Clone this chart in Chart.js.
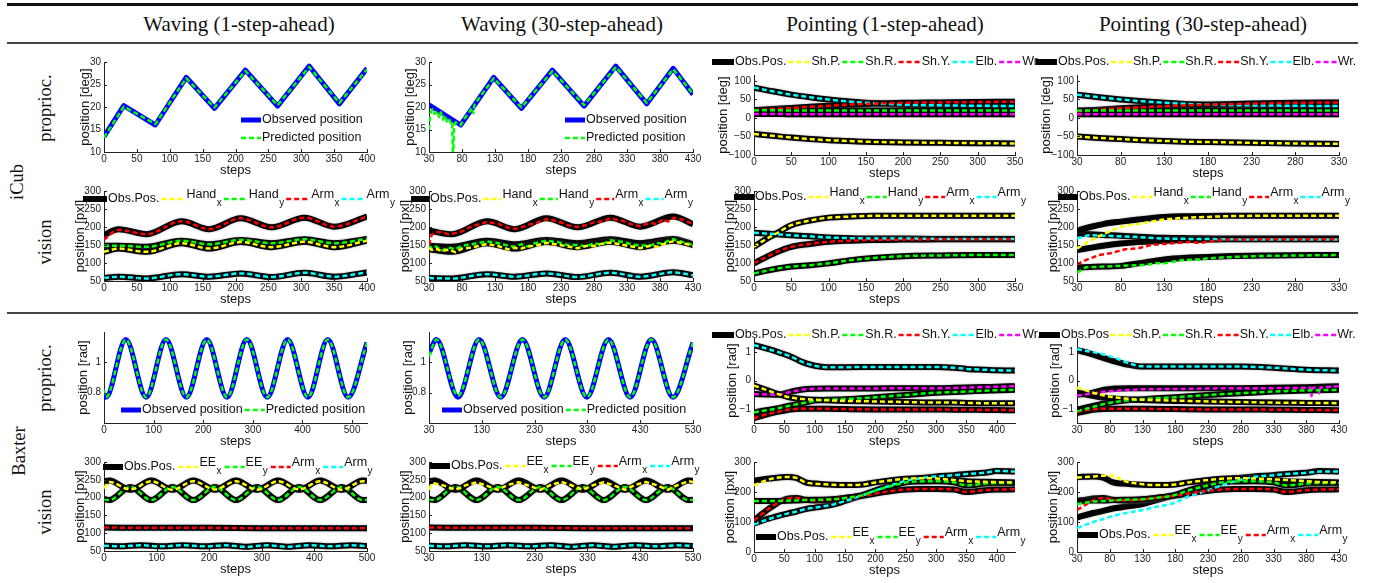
<!DOCTYPE html>
<html><head><meta charset="utf-8">
<script src="https://cdn.jsdelivr.net/npm/chart.js@4.4.0/dist/chart.umd.min.js"></script>
<style>
html,body{margin:0;padding:0;background:#fff;overflow:hidden;}
#page{position:relative;width:1378px;height:583px;overflow:hidden;background:#fff;}
#page canvas{position:absolute;}
.rule{position:absolute;}
.hdr{position:absolute;font-family:'Liberation Serif','Times New Roman',serif;font-size:21px;color:#111;white-space:nowrap;transform:translate(-50%,-50%);}
.rlab{position:absolute;font-family:'Liberation Serif','Times New Roman',serif;font-size:18.5px;color:#111;white-space:nowrap;transform:translate(-50%,-50%) rotate(-90deg);}
</style></head><body><div id="page"></div>
<script>
// ===================== TEXT =====================
const columnTitles = ["Waving (1-step-ahead)", "Waving (30-step-ahead)", "Pointing (1-step-ahead)", "Pointing (30-step-ahead)"];
const robotLabels = ["iCub", "Baxter"];
const modalityLabels = ["proprioc.", "vision", "proprioc.", "vision"];
const waveLegend = ["Observed position", "Predicted position"];
const jointLegend = ["Obs.Pos.", "Sh.P.", "Sh.R.", "Sh.Y.", "Elb.", "Wr."];
const jointLegendB = ["Obs.Pos", "Sh.P.", "Sh.R.", "Sh.Y.", "Elb.", "Wr."];
const handLegend = [["Obs.Pos.", ""], ["Hand", "x"], ["Hand", "y"], ["Arm", "x"], ["Arm", "y"]];
const eeLegend = [["Obs.Pos.", ""], ["EE", "x"], ["EE", "y"], ["Arm", "x"], ["Arm", "y"]];

// ===================== TICKS =====================
const ticksX400 = [0,50,100,150,200,250,300,350,400];
const ticksX430 = [30,80,130,180,230,280,330,380,430];
const ticksX350 = [0,50,100,150,200,250,300,350];
const ticksX330 = [30,80,130,180,230,280,330];
const ticksX500 = [0,100,200,300,400,500];
const ticksX530 = [30,130,230,330,430,530];
const ticksX400b = [0,50,100,150,200,250,300,350,400];
const ticksYdeg = [10,15,20,25,30];
const ticksYjoint = [-100,-50,0,50,100];
const ticksYpx = [50,100,150,200,250,300];
const ticksYrad = [0.8,1];
const ticksYrad3 = [-1,0,1];
const ticksYpx0 = [0,100,200,300];

// ===================== iCub proprioception, waving =====================
const icPW1_x    = [0,30,78,125,168,215,264,312,358,400];
const icPW1_obs  = [13.4,20.3,16,26.6,19.7,28.2,20.2,29.1,20.7,28.6];
const icPW1_pred = [13.2,20.1,16.2,26.4,19.9,28.0,20.4,28.9,20.9,28.4];
const icPW30_x   = [30,78,128,170,217,265,313,360,400,430];
const icPW30_obs = [20.5,16,26.6,19.7,28.2,20.2,29.1,20.7,28.6,22.8];
const icPW30_px  = [30,32,35,38,42,45,48,51,54,57,60,63,65,66,67,68,70,74,78,84,90,95,97,99,101,105,128,170,217,265,313,360,400,430];
const icPW30_pred= [15,18.5,19.5,18.5,19.2,17.8,18.8,17.2,18.2,16.8,17.4,16.5,16.8,10,10,15.8,16.6,16.3,16,17.5,18.6,19.8,18.6,20.6,21.0,21.8,26.4,19.9,28.0,20.4,28.9,20.9,28.4,22.9];

// ===================== iCub proprioception, pointing =====================
const icPP1_x   = [0,25,50,75,100,125,150,200,250,300,350];
const icPP1_elb = [82,72,63,56,50,45,41,36,34,33,32];
const icPP1_shy = [21,24,27,30,33,36,38,41,42,43,44];
const icPP1_shr = [21,21,20,20,20,20,20,20,20,20,20];
const icPP1_wr  = [11,11,10,10,10,10,10,10,10,10,10];
const icPP1_shp = [-43,-48,-53,-57,-60,-62,-64,-66,-67,-68,-69];
const icPP30_x   = [30,55,80,105,130,155,180,230,280,330];
const icPP30_elb = [63,56,50,45,41,38,36,34,33,32];
const icPP30_shy = [18,22,26,29,32,34,36,39,41,42];
const icPP30_shr = [20,20,20,20,20,20,20,20,20,20];
const icPP30_wr  = [10,10,10,10,10,10,10,10,10,10];
const icPP30_shp = [-50,-54,-57,-60,-62,-64,-65,-67,-69,-70];

// ===================== iCub vision, waving =====================
const icVW1_x     = [0,22,65,118,160,208,255,305,350,400];
const icVW1_handx = [131,140,131,155,140,158,144,159,144,162];
const icVW1_handy = [148,148,145,162,152,164,155,166,155,167];
const icVW1_armx  = [178,194,180,216,194,224,199,226,201,229];
const icVW1_army  = [58,62,57,69,62,71,61,73,62,74];
const icVW1_armxPred = [165,192,180,216,194,224,199,226,201,229];
const icVW30_x     = [30,65,118,160,208,255,305,350,400,430];
const icVW30_handx = [138,131,155,140,158,144,159,144,162,150];
const icVW30_handy = [148,145,162,152,164,155,166,155,167,152];
const icVW30_armx  = [190,180,216,194,224,199,226,201,229,208];
const icVW30_army  = [58,57,69,62,71,61,73,62,74,66];
const icVW30_px        = [30,34,40,50,60,70,80,95,118,135,150,160,170,180,190,208,225,240,255,270,280,290,305,325,340,350,365,375,385,392,400,415,430];
const icVW30_handxPred = [142,136,140,133,137,130,140,143,153,147,138,142,140,146,148,156,151,146,141,148,147,153,157,150,145,141,148,145,152,157,160,155,148];
const icVW30_handyPred = [150,140,146,135,143,138,148,152,160,155,148,145,152,146,155,162,158,150,150,146,156,150,163,158,150,149,148,156,153,162,166,158,150];
const icVW30_armxPred  = [150,178,186,185,180,183,188,202,214,209,198,195,199,206,210,222,216,205,200,206,213,215,224,216,205,202,212,208,222,215,226,220,208];

// ===================== iCub vision, pointing =====================
const icVP1_x     = [0,15,30,50,75,100,130,160,200,250,300,350];
const icVP1_handx = [145,165,182,205,218,226,229,231,231,231,231,231];
const icVP1_army  = [184,182,180,177,174,171,169,168,168,167,167,167];
const icVP1_armx  = [99,115,130,145,153,159,162,164,165,166,166,166];
const icVP1_handy = [71,78,84,90,94,99,108,114,119,121,122,122];
const icVP30_x     = [30,45,60,80,100,130,160,200,250,300,330];
const icVP30_handx = [190,200,208,215,221,228,230,231,231,231,231];
const icVP30_army  = [182,180,178,176,173,170,169,168,168,168,168];
const icVP30_armx  = [136,142,148,154,158,162,164,166,166,166,166];
const icVP30_handy = [88,89,90,92,99,110,115,119,121,122,122];
const icVP30_handxPx   = [30,40,50,60,70,80,90,100,115,130,150,180,200,250,330];
const icVP30_handxPred = [140,155,168,180,190,200,205,208,215,221,225,228,230,231,231];
const icVP30_armyPred  = [168,177,176,174,172,168,167,166,165,165,165];
const icVP30_armxPx    = [30,40,55,70,85,100,115,130,145,160,170,180,200,250,330];
const icVP30_armxPred  = [96,108,122,128,138,141,150,153,156,159,155,160,165,166,166];
const icVP30_handyPx   = [30,40,60,80,100,110,120,130,150,170,180,200,220,250,330];
const icVP30_handyPred = [73,88,90,92,94,95,100,99,108,110,113,116,118,120,122];

// ===================== Baxter proprioception, waving =====================
const bxPW1_x    = [0,4,44,85,125,166,207,248,288,329,370,411,451,492,530];
const bxPW1_obs  = [0.79,0.77,1.15,0.77,1.15,0.77,1.15,0.77,1.15,0.77,1.15,0.77,1.15,0.77,1.13];
const bxPW1_pred = [0.82,0.77,1.15,0.77,1.15,0.77,1.15,0.77,1.15,0.77,1.15,0.77,1.15,0.77,1.13];
const bxPW30_x    = [30,44,85,125,166,207,248,288,329,370,411,451,492,530];
const bxPW30_obs  = [1.06,1.15,0.77,1.15,0.77,1.15,0.77,1.15,0.77,1.15,0.77,1.15,0.77,1.13];
const bxPW30_pred = [1.04,1.15,0.78,1.15,0.77,1.15,0.77,1.15,0.77,1.15,0.77,1.15,0.77,1.13];

// ===================== Baxter proprioception, pointing =====================
const bxPP1_x   = [0,20,40,60,80,100,120,150,200,250,300,330,350,380,400,430];
const bxPP1_elb = [1.25,1.13,1.0,0.85,0.65,0.52,0.47,0.47,0.48,0.48,0.48,0.45,0.41,0.38,0.36,0.35];
const bxPP1_wr  = [-0.48,-0.49,-0.5,-0.4,-0.32,-0.29,-0.28,-0.28,-0.28,-0.27,-0.27,-0.26,-0.25,-0.23,-0.22,-0.2];
const bxPP1_shp = [-0.18,-0.33,-0.48,-0.6,-0.65,-0.68,-0.7,-0.72,-0.74,-0.76,-0.78,-0.78,-0.79,-0.8,-0.8,-0.8];
const bxPP1_shr = [-1.13,-1.05,-0.98,-0.88,-0.8,-0.71,-0.68,-0.66,-0.59,-0.51,-0.43,-0.41,-0.39,-0.36,-0.34,-0.33];
const bxPP1_shy = [-1.33,-1.2,-1.1,-1.02,-1.0,-1.0,-1.0,-1.01,-1.02,-1.02,-1.02,-1.03,-1.03,-1.04,-1.04,-1.05];
const bxPP30_x   = [30,50,70,90,110,130,180,230,280,330,380,430];
const bxPP30_elb = [1.07,0.95,0.8,0.66,0.55,0.49,0.49,0.49,0.49,0.45,0.38,0.35];
const bxPP30_elbPred = [1.1,1.02,0.92,0.78,0.6,0.5,0.49,0.49,0.49,0.45,0.38,0.35];
const bxPP30_wr  = [-0.5,-0.45,-0.33,-0.28,-0.27,-0.27,-0.27,-0.27,-0.27,-0.26,-0.24,-0.2];
const bxPP30_wrPx   = [30,50,70,90,110,130,180,230,280,330,380,386,388,390,398,400,402,430];
const bxPP30_wrPred = [-0.53,-0.47,-0.4,-0.36,-0.33,-0.31,-0.3,-0.28,-0.27,-0.27,-0.26,-0.26,-0.55,-0.26,-0.26,-0.45,-0.25,-0.2];
const bxPP30_shp = [-0.42,-0.52,-0.6,-0.64,-0.67,-0.69,-0.72,-0.74,-0.76,-0.78,-0.79,-0.8];
const bxPP30_shpPred = [-0.25,-0.4,-0.52,-0.6,-0.65,-0.68,-0.71,-0.74,-0.76,-0.78,-0.79,-0.8];
const bxPP30_shr = [-1.03,-0.92,-0.82,-0.74,-0.69,-0.66,-0.59,-0.51,-0.45,-0.39,-0.35,-0.33];
const bxPP30_shrPred = [-1.08,-0.96,-0.84,-0.75,-0.7,-0.66,-0.59,-0.51,-0.45,-0.39,-0.35,-0.33];
const bxPP30_shy = [-1.15,-1.05,-1.01,-1.0,-1.0,-1.0,-1.01,-1.02,-1.02,-1.03,-1.04,-1.05];
const bxPP30_shyPred = [-1.1,-1.02,-1.0,-1.0,-1.0,-1.0,-1.01,-1.02,-1.02,-1.03,-1.04,-1.05];

// ===================== Baxter vision, waving =====================
const bxVW1_x    = [0,10,50,90,130,170,211,251,291,331,371,411,452,492,500];
const bxVW1_eex  = [246,248,222,248,222,248,222,248,222,248,222,248,222,248,247];
const bxVW1_eexPred = [226,244,223,246,222,246,223,246,222,246,223,246,222,246,246];
const bxVW1_eey  = [196,193,230,193,230,193,230,193,230,193,230,193,230,193,194];
const bxVW1_armX = [0,100,200,300,400,500];
const bxVW1_armx = [116,115,115,114,114,114];
const bxVW1_armyX = [0,30,70,110,150,190,230,270,310,350,390,430,470,500];
const bxVW1_army  = [65,63,66,63,66,63,66,62,66,62,66,63,66,64];
const bxVW30_x   = [30,40,80,120,160,200,241,281,321,361,401,441,482,522,530];
const bxVW30_eex = [246,248,222,248,222,248,222,248,222,248,222,248,222,248,247];
const bxVW30_eey = [196,193,230,193,230,193,230,193,230,193,230,193,230,193,194];
const bxVW30_eexPx   = [30,33,36,40,60,80,100,120,140,160,180,200,220,241,261,281,301,321,341,361,381,401,421,441,461,482,502,522,530];
const bxVW30_eexPred = [222,232,238,240,233,222,235,243,233,222,236,243,233,222,236,244,234,222,235,243,234,222,236,244,235,222,236,246,244];
const bxVW30_armX = [30,130,230,330,430,530];
const bxVW30_armx = [116,115,115,114,114,114];
const bxVW30_armyX = [30,60,100,140,180,220,260,300,340,380,420,460,500,530];
const bxVW30_army  = [65,63,66,63,66,63,66,62,66,62,66,63,66,64];

// ===================== Baxter vision, pointing =====================
const bxVP1_x    = [0,25,55,70,85,100,130,150,180,200,230,250,270,300,330,350,380,400,430];
const bxVP1_eex  = [238,245,250,247,232,228,224,223,225,232,240,244,246,245,240,236,234,233,232];
const bxVP1_eey  = [170,170,171,172,173,174,176,180,190,205,222,232,235,236,232,222,228,230,230];
const bxVP1_armx = [105,145,178,180,174,172,175,180,188,195,204,208,210,210,208,200,206,208,209];
const bxVP1_army = [95,112,128,135,143,148,158,170,190,205,225,238,245,252,256,260,264,270,268];
const bxVP1_eexPred  = [222,242,250,247,232,228,224,223,225,232,240,244,246,245,240,236,234,233,232];
const bxVP1_armyPred = [92,110,128,135,143,148,158,170,190,205,225,238,245,252,256,260,264,270,268];
const bxVP30_x    = [30,55,70,85,100,130,150,180,200,230,250,270,300,330,350,380,400,430];
const bxVP30_eex  = [250,252,248,232,228,224,223,225,232,240,244,246,245,240,236,234,233,232];
const bxVP30_eey  = [172,172,172,173,174,176,180,190,205,222,232,235,236,232,222,228,230,230];
const bxVP30_armx = [168,178,180,174,172,175,180,188,195,204,208,210,210,208,200,206,208,209];
const bxVP30_army = [115,130,137,145,150,160,172,190,205,225,238,245,252,256,260,264,270,268];
const bxVP30_eexPred  = [248,252,254,254,238,226,223,225,232,240,244,246,245,242,240,236,233,232];
const bxVP30_eeyPred  = [160,168,170,172,174,176,180,190,205,222,232,235,236,232,222,228,230,230];
const bxVP30_armxPred = [140,172,180,174,172,175,180,188,195,204,208,210,210,208,200,206,208,209];
const bxVP30_armyPred = [80,100,110,120,128,140,150,165,185,205,222,235,250,256,260,264,268,268];

// ===================== RENDERING =====================
const FONT = "'Liberation Sans', Arial, Helvetica, sans-serif";
const COL = {k:'#000000', b:'#0000ff', y:'#ffff00', g:'#00ff00', r:'#ff0000', c:'#00ffff', m:'#ff00ff'};
const page = document.getElementById('page');

function addDiv(cls, text, x, y, extra) {
  const d = document.createElement('div');
  d.className = cls; d.textContent = text;
  d.style.left = x + 'px'; d.style.top = y + 'px';
  if (extra) Object.assign(d.style, extra);
  page.appendChild(d);
}
function addRule(y, h, color) {
  const d = document.createElement('div');
  d.className = 'rule';
  Object.assign(d.style, {left:'7px', width:'1351px', top:y+'px', height:h+'px', background:color});
  page.appendChild(d);
}
addRule(3, 3, '#111');
addRule(42, 2, '#444');
addRule(312, 2, '#444');
[239, 562, 885, 1203].forEach((x, i) => addDiv('hdr', columnTitles[i], x, 24));
addDiv('rlab', robotLabels[0], 17, 182);
addDiv('rlab', robotLabels[1], 19, 451);
addDiv('rlab', modalityLabels[0], 45, 108);
addDiv('rlab', modalityLabels[1], 45, 242);
addDiv('rlab', modalityLabels[2], 45, 378);
addDiv('rlab', modalityLabels[3], 45, 512);

Chart.register({
  id: 'halo',
  beforeDatasetDraw(chart, args) {
    const ds = chart.data.datasets[args.index];
    if (ds.halo) { const c = chart.ctx; c.save(); c.shadowColor = 'rgba(130,130,130,0.75)'; c.shadowBlur = 2; }
  },
  afterDatasetDraw(chart, args) {
    const ds = chart.data.datasets[args.index];
    if (ds.halo) chart.ctx.restore();
  }
});
Chart.register({
  id: 'inticks',
  afterDatasetsDraw(chart) {
    const {ctx, chartArea: a, scales} = chart;
    const sx = scales.x, sy = scales.y;
    ctx.save(); ctx.strokeStyle = '#222'; ctx.lineWidth = 1; ctx.beginPath();
    sx.ticks.forEach(t => { const px = Math.round(sx.getPixelForValue(t.value)) + 0.5; ctx.moveTo(px, a.bottom); ctx.lineTo(px, a.bottom - 3); });
    sy.ticks.forEach(t => { const py = Math.round(sy.getPixelForValue(t.value)) + 0.5; ctx.moveTo(a.left, py); ctx.lineTo(a.left + 3, py); });
    ctx.stroke(); ctx.restore();
  }
});

function legendPlugin(spec, ox, oy) {
  return {
    id: 'mleg',
    afterDraw(chart) {
      if (!spec) return;
      const ctx = chart.ctx; ctx.save();
      let x = spec.x - ox, y = spec.y - oy;
      const len = spec.len || 20;
      spec.items.forEach(it => {
        ctx.save();
        ctx.strokeStyle = it.c; ctx.lineWidth = it.w; ctx.setLineDash(it.d ? [5, 3] : []);
        ctx.beginPath(); ctx.moveTo(x, y); ctx.lineTo(x + len, y); ctx.stroke();
        ctx.restore();
        let tx = x + len + 1;
        ctx.fillStyle = '#111'; ctx.textBaseline = 'middle'; ctx.textAlign = 'left';
        ctx.font = '12.5px ' + FONT;
        if (it.s) {
          ctx.fillText(it.t, tx, y - 4);
          tx += ctx.measureText(it.t).width + 0.5;
          ctx.font = '10px ' + FONT;
          ctx.fillText(it.s, tx, y + 4);
          tx += ctx.measureText(it.s).width;
        } else {
          ctx.fillText(it.t, tx, y);
          tx += ctx.measureText(it.t).width;
        }
        if (spec.col) y += spec.rowGap; else x = tx + (spec.gap == null ? 3 : spec.gap);
      });
      ctx.restore();
    }
  };
}

function series(xs, ys, color, width, dashed, smooth, halo, order) {
  return {
    data: xs.map((x, i) => ({x: x, y: ys[i]})),
    borderColor: color, backgroundColor: color, borderWidth: width,
    borderDash: dashed ? [5, 3] : [], pointRadius: 0, fill: false, tension: 0,
    cubicInterpolationMode: smooth ? 'monotone' : 'default', borderJoinStyle: 'round',
    halo: !!halo, order: order
  };
}
const obs = (xs, ys, smooth = true) => series(xs, ys, COL.k, 6, false, smooth, true, 2);
const obsBlue = (xs, ys, smooth = true) => series(xs, ys, COL.b, 5, false, smooth, false, 2);
const pred = (xs, ys, color, smooth = true) => series(xs, ys, color, 2.5, true, smooth, false, 1);

const ML = 60, MR = 42, MT = 50, MB = 28;
function makePanel(p) {
  const [l, t, r, b] = p.rect;
  const W = ML + (r - l) + MR, H = MT + (b - t) + MB;
  const cv = document.createElement('canvas');
  cv.width = W; cv.height = H;
  const ox = l - ML, oy = t - MT;
  cv.style.left = ox + 'px'; cv.style.top = oy + 'px';
  cv.style.width = W + 'px'; cv.style.height = H + 'px';
  page.appendChild(cv);
  const tickFont = {family: FONT, size: 10};
  const fmt = v => (v < 0 ? '\u2212' + Math.abs(v) : String(v));
  new Chart(cv.getContext('2d'), {
    type: 'line',
    data: {datasets: p.datasets},
    options: {
      responsive: false, animation: false, devicePixelRatio: 1,
      layout: {padding: {left: 0, top: MT, right: MR, bottom: 0}},
      plugins: {legend: {display: false}, tooltip: {enabled: false}},
      elements: {point: {radius: 0}},
      scales: {
        x: {
          type: 'linear', min: p.xMin, max: p.xMax,
          afterFit(s) { s.height = MB; s.paddingLeft = 0; s.paddingRight = 0; },
          afterBuildTicks(s) { s.ticks = p.xTicks.map(v => ({value: v})); },
          ticks: {autoSkip: false, maxRotation: 0, minRotation: 0, padding: 1, font: tickFont, color: '#222', callback: fmt},
          grid: {display: false, drawTicks: false},
          border: {display: true, color: '#222', width: 1},
          title: {display: true, text: 'steps', font: {family: FONT, size: 13}, color: '#111', padding: {top: 0, bottom: MB - 18 - 7.8}}
        },
        y: {
          type: 'linear', min: p.yMin, max: p.yMax,
          afterFit(s) { s.width = ML; s.paddingTop = 0; s.paddingBottom = 0; },
          afterBuildTicks(s) { s.ticks = p.yTicks.map(v => ({value: v})); },
          ticks: {autoSkip: false, padding: 3, font: tickFont, color: '#222', callback: fmt},
          grid: {display: false, drawTicks: false},
          border: {display: true, color: '#222', width: 1},
          title: {display: true, text: p.yTitle, font: {family: FONT, size: 13}, color: '#111', padding: {top: ML - p.yGap - 7.8, bottom: 0}}
        }
      }
    },
    plugins: [legendPlugin(p.legend, ox, oy)]
  });
}

// legend item builders
const itObsBlue = {t: waveLegend[0], c: COL.b, w: 5};
const itPredG = {t: waveLegend[1], c: COL.g, w: 2.5, d: true};
const jointColors = [COL.y, COL.g, COL.r, COL.c, COL.m];
const jointItems = names => names.map((n, i) => i === 0 ? {t: n, c: COL.k, w: 6} : {t: n, c: jointColors[i - 1], w: 2.5, d: true});
const visColors = [COL.y, COL.g, COL.r, COL.c];
const visItems = names => names.map((n, i) => i === 0 ? {t: n[0], c: COL.k, w: 6} : {t: n[0], s: n[1], c: visColors[i - 1], w: 2.5, d: true});

const colL = [104, 429, 754, 1077], colR = [367, 693, 1015, 1339];

// ---------- Row 1: iCub proprioception ----------
makePanel({rect: [colL[0], 62, colR[0], 152], xMin: 0, xMax: 400, xTicks: ticksX400, yMin: 10, yMax: 30, yTicks: ticksYdeg,
  yTitle: 'position [deg]', yGap: 19,
  datasets: [pred(icPW1_x, icPW1_pred, COL.g, false), obsBlue(icPW1_x, icPW1_obs, false)],
  legend: {col: true, x: 241, y: 120, rowGap: 18, len: 20, items: [itObsBlue, itPredG]}});
makePanel({rect: [colL[1], 62, colR[1], 152], xMin: 30, xMax: 430, xTicks: ticksX430, yMin: 10, yMax: 30, yTicks: ticksYdeg,
  yTitle: 'position [deg]', yGap: 19,
  datasets: [pred(icPW30_px, icPW30_pred, COL.g, false), obsBlue(icPW30_x, icPW30_obs, false)],
  legend: {col: true, x: 565, y: 120, rowGap: 18, len: 20, items: [itObsBlue, itPredG]}});
makePanel({rect: [colL[2], 75, colR[2], 155], xMin: 0, xMax: 350, xTicks: ticksX350, yMin: -100, yMax: 116, yTicks: ticksYjoint,
  yTitle: 'position [deg]', yGap: 31,
  datasets: [
    pred(icPP1_x, icPP1_shp, COL.y), pred(icPP1_x, icPP1_shr, COL.g), pred(icPP1_x, icPP1_shy, COL.r), pred(icPP1_x, icPP1_elb, COL.c), pred(icPP1_x, icPP1_wr, COL.m),
    obs(icPP1_x, icPP1_shp), obs(icPP1_x, icPP1_shr), obs(icPP1_x, icPP1_shy), obs(icPP1_x, icPP1_elb), obs(icPP1_x, icPP1_wr)],
  legend: {x: 712, y: 62, len: 22, gap: 2, items: jointItems(jointLegend)}});
makePanel({rect: [colL[3], 75, colR[3], 155], xMin: 30, xMax: 330, xTicks: ticksX330, yMin: -100, yMax: 116, yTicks: ticksYjoint,
  yTitle: 'position [deg]', yGap: 31,
  datasets: [
    pred(icPP30_x, icPP30_shp, COL.y), pred(icPP30_x, icPP30_shr, COL.g), pred(icPP30_x, icPP30_shy, COL.r), pred(icPP30_x, icPP30_elb, COL.c), pred(icPP30_x, icPP30_wr, COL.m),
    obs(icPP30_x, icPP30_shp), obs(icPP30_x, icPP30_shr), obs(icPP30_x, icPP30_shy), obs(icPP30_x, icPP30_elb), obs(icPP30_x, icPP30_wr)],
  legend: {x: 1036, y: 62, len: 21, gap: 1.5, items: jointItems(jointLegend)}});

// ---------- Row 2: iCub vision ----------
makePanel({rect: [colL[0], 191, colR[0], 281], xMin: 0, xMax: 400, xTicks: ticksX400, yMin: 50, yMax: 300, yTicks: ticksYpx,
  yTitle: 'position [pxl]', yGap: 24,
  datasets: [
    pred(icVW1_x, icVW1_handx, COL.y), pred(icVW1_x, icVW1_handy, COL.g), pred(icVW1_x, icVW1_armxPred, COL.r), pred(icVW1_x, icVW1_army, COL.c),
    obs(icVW1_x, icVW1_handx), obs(icVW1_x, icVW1_handy), obs(icVW1_x, icVW1_armx), obs(icVW1_x, icVW1_army)],
  legend: {x: 83, y: 199, len: 24, gap: 2, items: visItems(handLegend)}});
makePanel({rect: [colL[1], 191, colR[1], 281], xMin: 30, xMax: 430, xTicks: ticksX430, yMin: 50, yMax: 300, yTicks: ticksYpx,
  yTitle: 'position [pxl]', yGap: 24,
  datasets: [
    pred(icVW30_px, icVW30_handxPred, COL.y, false), pred(icVW30_px, icVW30_handyPred, COL.g, false), pred(icVW30_px, icVW30_armxPred, COL.r, false), pred(icVW30_x, icVW30_army, COL.c),
    obs(icVW30_x, icVW30_handx), obs(icVW30_x, icVW30_handy), obs(icVW30_x, icVW30_armx), obs(icVW30_x, icVW30_army)],
  legend: {x: 411, y: 199, len: 18, gap: 2, items: visItems(handLegend)}});
makePanel({rect: [colL[2], 191, colR[2], 281], xMin: 0, xMax: 350, xTicks: ticksX350, yMin: 50, yMax: 300, yTicks: ticksYpx,
  yTitle: 'position [pxl]', yGap: 24,
  datasets: [
    pred(icVP1_x, icVP1_handx, COL.y), pred(icVP1_x, icVP1_handy, COL.g), pred(icVP1_x, icVP1_armx, COL.r), pred(icVP1_x, icVP1_army, COL.c),
    obs(icVP1_x, icVP1_handx), obs(icVP1_x, icVP1_handy), obs(icVP1_x, icVP1_armx), obs(icVP1_x, icVP1_army)],
  legend: {x: 734, y: 197, len: 20, gap: 2, items: visItems(handLegend)}});
makePanel({rect: [colL[3], 191, colR[3], 281], xMin: 30, xMax: 330, xTicks: ticksX330, yMin: 50, yMax: 300, yTicks: ticksYpx,
  yTitle: 'position [pxl]', yGap: 24,
  datasets: [
    pred(icVP30_handxPx, icVP30_handxPred, COL.y), pred(icVP30_handyPx, icVP30_handyPred, COL.g, false), pred(icVP30_armxPx, icVP30_armxPred, COL.r, false), pred(icVP30_x, icVP30_armyPred, COL.c),
    obs(icVP30_x, icVP30_handx), obs(icVP30_x, icVP30_handy), obs(icVP30_x, icVP30_armx), obs(icVP30_x, icVP30_army)],
  legend: {x: 1058, y: 197, len: 20, gap: 2, items: visItems(handLegend)}});

// ---------- Row 3: Baxter proprioception ----------
makePanel({rect: [colL[0], 332, colR[0], 423], xMin: 0, xMax: 530, xTicks: ticksX500, yMin: 0.6, yMax: 1.2, yTicks: ticksYrad,
  yTitle: 'position [rad]', yGap: 21,
  datasets: [pred(bxPW1_x, bxPW1_pred, COL.g), obsBlue(bxPW1_x, bxPW1_obs)],
  legend: {x: 121, y: 410, len: 20, gap: 2, items: [itObsBlue, itPredG]}});
makePanel({rect: [colL[1], 332, colR[1], 423], xMin: 30, xMax: 530, xTicks: ticksX530, yMin: 0.6, yMax: 1.2, yTicks: ticksYrad,
  yTitle: 'position [rad]', yGap: 21,
  datasets: [pred(bxPW30_x, bxPW30_pred, COL.g), obsBlue(bxPW30_x, bxPW30_obs)],
  legend: {x: 442, y: 410, len: 20, gap: 2, items: [itObsBlue, itPredG]}});
makePanel({rect: [colL[2], 338, colR[2], 423], xMin: 0, xMax: 430, xTicks: ticksX400b, yMin: -1.5, yMax: 1.5, yTicks: ticksYrad3,
  yTitle: 'position [rad]', yGap: 22,
  datasets: [
    pred(bxPP1_x, bxPP1_shp, COL.y), pred(bxPP1_x, bxPP1_shr, COL.g), pred(bxPP1_x, bxPP1_shy, COL.r), pred(bxPP1_x, bxPP1_elb, COL.c), pred(bxPP1_x, bxPP1_wr, COL.m),
    obs(bxPP1_x, bxPP1_shp), obs(bxPP1_x, bxPP1_shr), obs(bxPP1_x, bxPP1_shy), obs(bxPP1_x, bxPP1_elb), obs(bxPP1_x, bxPP1_wr)],
  legend: {x: 712, y: 335, len: 22, gap: 2, items: jointItems(jointLegend)}});
makePanel({rect: [colL[3], 338, colR[3], 423], xMin: 30, xMax: 430, xTicks: ticksX430, yMin: -1.5, yMax: 1.5, yTicks: ticksYrad3,
  yTitle: 'position [rad]', yGap: 22,
  datasets: [
    pred(bxPP30_x, bxPP30_shpPred, COL.y), pred(bxPP30_x, bxPP30_shrPred, COL.g), pred(bxPP30_x, bxPP30_shyPred, COL.r), pred(bxPP30_x, bxPP30_elbPred, COL.c), pred(bxPP30_wrPx, bxPP30_wrPred, COL.m, false),
    obs(bxPP30_x, bxPP30_shp), obs(bxPP30_x, bxPP30_shr), obs(bxPP30_x, bxPP30_shy), obs(bxPP30_x, bxPP30_elb), obs(bxPP30_x, bxPP30_wr)],
  legend: {x: 1039, y: 335, len: 21, gap: 1.5, items: jointItems(jointLegendB)}});

// ---------- Row 4: Baxter vision ----------
makePanel({rect: [colL[0], 462, colR[0], 551], xMin: 0, xMax: 500, xTicks: ticksX500, yMin: 50, yMax: 300, yTicks: ticksYpx,
  yTitle: 'position [pxl]', yGap: 24,
  datasets: [
    pred(bxVW1_x, bxVW1_eexPred, COL.y), pred(bxVW1_x, bxVW1_eey, COL.g), pred(bxVW1_armX, bxVW1_armx, COL.r), pred(bxVW1_armyX, bxVW1_army, COL.c),
    obs(bxVW1_x, bxVW1_eex), obs(bxVW1_x, bxVW1_eey), obs(bxVW1_armX, bxVW1_armx), obs(bxVW1_armyX, bxVW1_army)],
  legend: {x: 103, y: 467, len: 20, gap: 3, items: visItems(eeLegend)}});
makePanel({rect: [colL[1], 462, colR[1], 551], xMin: 30, xMax: 530, xTicks: ticksX530, yMin: 50, yMax: 300, yTicks: ticksYpx,
  yTitle: 'position [pxl]', yGap: 24,
  datasets: [
    pred(bxVW30_eexPx, bxVW30_eexPred, COL.y, false), pred(bxVW30_x, bxVW30_eey, COL.g), pred(bxVW30_armX, bxVW30_armx, COL.r), pred(bxVW30_armyX, bxVW30_army, COL.c),
    obs(bxVW30_x, bxVW30_eex), obs(bxVW30_x, bxVW30_eey), obs(bxVW30_armX, bxVW30_armx), obs(bxVW30_armyX, bxVW30_army)],
  legend: {x: 430, y: 466, len: 20, gap: 3, items: visItems(eeLegend)}});
makePanel({rect: [colL[2], 462, colR[2], 552], xMin: 0, xMax: 430, xTicks: ticksX400b, yMin: 0, yMax: 300, yTicks: ticksYpx0,
  yTitle: 'position [pxl]', yGap: 24,
  datasets: [
    pred(bxVP1_x, bxVP1_eexPred, COL.y), pred(bxVP1_x, bxVP1_eey, COL.g), pred(bxVP1_x, bxVP1_armx, COL.r), pred(bxVP1_x, bxVP1_armyPred, COL.c),
    obs(bxVP1_x, bxVP1_eex), obs(bxVP1_x, bxVP1_eey), obs(bxVP1_x, bxVP1_armx), obs(bxVP1_x, bxVP1_army)],
  legend: {x: 756, y: 537, len: 20, gap: 3, items: visItems(eeLegend)}});
makePanel({rect: [colL[3], 462, colR[3], 552], xMin: 30, xMax: 430, xTicks: ticksX430, yMin: 0, yMax: 300, yTicks: ticksYpx0,
  yTitle: 'position [pxl]', yGap: 24,
  datasets: [
    pred(bxVP30_x, bxVP30_eexPred, COL.y), pred(bxVP30_x, bxVP30_eeyPred, COL.g), pred(bxVP30_x, bxVP30_armxPred, COL.r), pred(bxVP30_x, bxVP30_armyPred, COL.c),
    obs(bxVP30_x, bxVP30_eex), obs(bxVP30_x, bxVP30_eey), obs(bxVP30_x, bxVP30_armx), obs(bxVP30_x, bxVP30_army)],
  legend: {x: 1078, y: 535, len: 20, gap: 3, items: visItems(eeLegend)}});
</script></body></html>
